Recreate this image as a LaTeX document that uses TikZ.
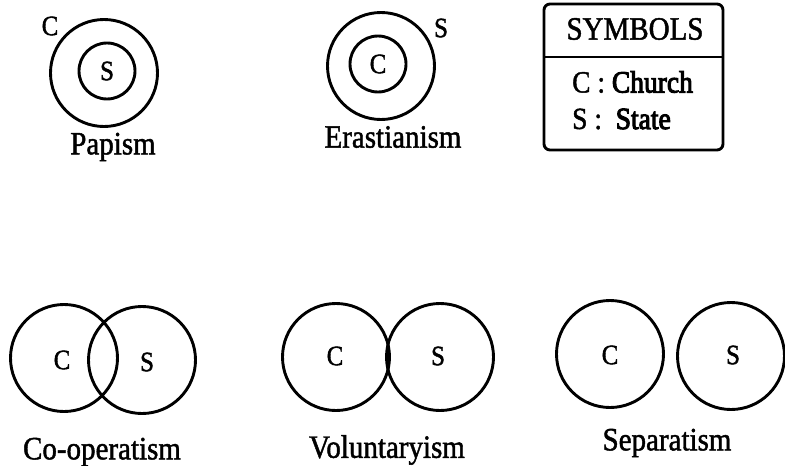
\documentclass[tikz,border=0pt]{standalone}
\usepackage{fontspec}
\setmainfont{Liberation Serif}[FakeBold=1.5]
\newfontfamily\heavyfont{Liberation Serif}[FakeBold=3.5]
\newcommand{\tall}[1]{\scalebox{1}[1.12]{#1}}
\begin{document}
\begin{tikzpicture}[x=1pt,y=-1pt,
  ring/.style={draw,circle,line width=2.9pt,inner sep=0pt},
  big/.style={ring,minimum size=107pt},
  small/.style={ring,minimum size=56pt},
  letter/.style={font=\fontsize{25}{27}\selectfont,inner sep=0pt},
  caption/.style={font=\fontsize{29}{31}\selectfont,inner sep=0pt},
  legend/.style={font=\fontsize{27.5}{29}\selectfont,inner sep=0pt,anchor=west}]
\useasboundingbox (0,0) rectangle (785,466);

% Papism: the State inside the Church
\node[big] (pC) at (104,73) {};
\node[small] (pS) at (107,71) {};
\node[letter] (pSl) at (107,71) {\tall{S}};
\node[letter] (pCl) at (50,26) {\tall{C}};
\node[caption] (pcap) at (113,147) {\tall{Papism}};

% Erastianism: the Church inside the State
\node[big] (eS) at (381,66) {};
\node[small] (eC) at (378,64) {};
\node[letter] (eCl) at (378,64) {\tall{C}};
\node[letter] (eSl) at (441,28) {\tall{S}};
\node[caption] (ecap) at (393,137) {\tall{Erastianism}};

% Legend box
\draw[line width=2.9pt,rounded corners=6pt] (544,4) rectangle (723,150);
\draw[line width=2.9pt] (544,57) -- (723,57);
\node[caption] (sym) at (635,29) {\tall{SYMBOLS}};
\node[legend] (lc) at (572,82) {\tall{C : {\heavyfont Church}}};
\node[legend] (ls) at (572,119) {\tall{S :\ \ {\heavyfont State}}};

% Co-operatism: overlapping circles
\node[big] (cC) at (64,358) {};
\node[big] (cS) at (142,360) {};
\node[letter] (cCl) at (62,360) {\tall{C}};
\node[letter] (cSl) at (147,362) {\tall{S}};
\node[caption] (ccap) at (102,452) {\tall{Co-operatism}};

% Voluntaryism: touching circles
\node[big] (vC) at (336,357) {};
\node[big] (vS) at (440,357) {};
\node[letter] (vCl) at (335,356) {\tall{C}};
\node[letter] (vSl) at (438,356) {\tall{S}};
\node[caption] (vcap) at (387,450) {\tall{Voluntaryism}};

% Separatism: disjoint circles
\node[big] (sC) at (610,354) {};
\node[big] (sS) at (731,356) {};
\node[letter] (sCl) at (610,355) {\tall{C}};
\node[letter] (sSl) at (733,355) {\tall{S}};
\node[caption] (scap) at (667,443) {\tall{Separatism}};
\end{tikzpicture}
\end{document}
